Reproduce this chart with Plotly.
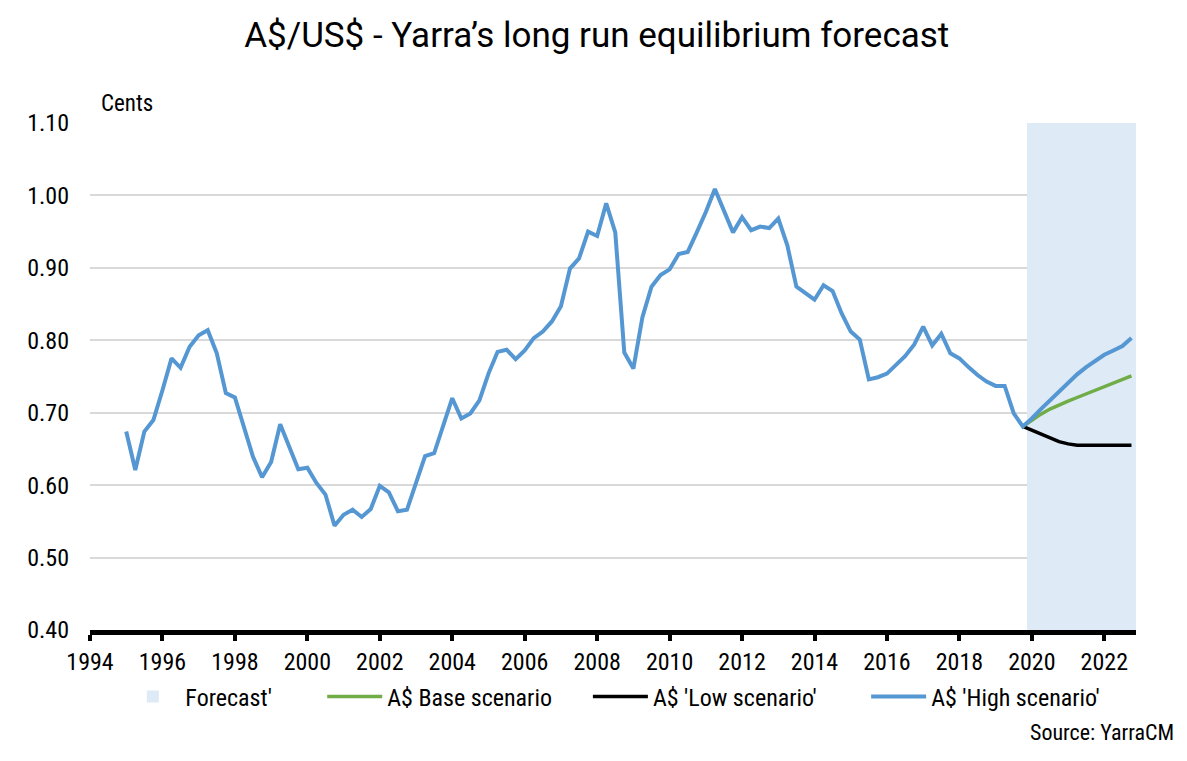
import plotly.graph_objects as go

# quarterly history, 1995 Q1 .. 2019 Q4 (cents)
hist_start = 1995.0
hist_values = [
	0.674, 0.621, 0.674, 0.690, 0.731, 0.775, 0.762, 0.791, 0.807, 0.814,
	0.782, 0.727, 0.721, 0.681, 0.639, 0.611, 0.632, 0.684, 0.653, 0.622,
	0.624, 0.603, 0.587, 0.544, 0.559, 0.566, 0.556, 0.567, 0.599, 0.590,
	0.564, 0.566, 0.603, 0.640, 0.644, 0.681, 0.720, 0.692, 0.699, 0.717,
	0.754, 0.784, 0.787, 0.774, 0.786, 0.803, 0.812, 0.826, 0.847, 0.899,
	0.913, 0.950, 0.944, 0.989, 0.949, 0.783, 0.761, 0.832, 0.874, 0.890,
	0.898, 0.919, 0.922, 0.949, 0.977, 1.009, 0.979, 0.949, 0.970, 0.952,
	0.957, 0.955, 0.968, 0.931, 0.874, 0.865, 0.856, 0.876, 0.868, 0.837,
	0.812, 0.801, 0.746, 0.749, 0.754, 0.766, 0.778, 0.794, 0.819, 0.793,
	0.809, 0.782, 0.775, 0.763, 0.752, 0.743, 0.737, 0.737, 0.699, 0.681,
]
hist_dates = [hist_start + 0.25 * i for i in range(len(hist_values))]

# forecast, 2019 Q4 .. 2022 Q4
fc_dates = [2019.75, 2020.0, 2020.25, 2020.5, 2020.75, 2021.0, 2021.25,
	2021.5, 2021.75, 2022.0, 2022.25, 2022.5, 2022.75]
base_values = [0.681, 0.690, 0.698, 0.705, 0.711, 0.716, 0.721,
	0.726, 0.731, 0.735, 0.740, 0.745, 0.751]
low_values = [0.681, 0.676, 0.671, 0.665, 0.660, 0.657, 0.655,
	0.655, 0.655, 0.655, 0.655, 0.655, 0.655]
high_values = [0.681, 0.692, 0.705, 0.717, 0.730, 0.742, 0.753,
	0.763, 0.772, 0.780, 0.786, 0.792, 0.803]

# shaded forecast columns
shade_dates = fc_dates[1:]
shade_values = [1.10] * len(shade_dates)

x_ticks = list(range(1994, 2023, 2))
y_ticks = [0.40, 0.50, 0.60, 0.70, 0.80, 0.90, 1.00, 1.10]

narrow = "Liberation Sans Narrow, Roboto Condensed, DejaVu Sans Condensed, Arial Narrow, sans-serif"

fig = go.Figure()
fig.add_trace(go.Bar(
	x=shade_dates, y=shade_values, width=0.25,
	marker=dict(color="#DEEAF6", line=dict(width=0)),
	name="Forecast'", hoverinfo="skip", legend="legend"))
fig.add_trace(go.Scatter(
	x=fc_dates, y=base_values, mode="lines",
	line=dict(color="#70AD47", width=3.5), name="A$ Base scenario", legend="legend2"))
fig.add_trace(go.Scatter(
	x=fc_dates, y=low_values, mode="lines",
	line=dict(color="#000000", width=3.5), name="A$ 'Low scenario'", legend="legend3"))
fig.add_trace(go.Scatter(
	x=hist_dates + fc_dates[1:], y=hist_values + high_values[1:], mode="lines",
	line=dict(color="#5597D2", width=4), name="A$ 'High scenario'", legend="legend4"))

def leg(x):
	return dict(orientation="h", x=x, xanchor="left", y=-0.132, yanchor="middle",
		itemwidth=55, font=dict(family=narrow, size=24, color="#000000"),
		bgcolor="rgba(0,0,0,0)")

# page body adds an 8px margin, so the figure margins are shifted by that
fig.update_layout(
	width=1187, height=761,
	paper_bgcolor="white", plot_bgcolor="white",
	margin=dict(l=82, r=59, t=115, b=139),
	bargap=0,
	title=dict(text="A$/US$ - Yarra\u2019s long run equilibrium forecast",
		x=0.496, xanchor="center", y=0.9645, yanchor="middle",
		font=dict(family="Roboto, Arial, sans-serif", size=35, color="#000000")),
	font=dict(family=narrow, size=24, color="#000000"),
	showlegend=True,
	legend=leg(0.029), legend2=leg(0.222), legend3=leg(0.476), legend4=leg(0.742),
	xaxis=dict(range=[1994, 2022.875], tickmode="array", tickvals=x_ticks,
		showgrid=False, zeroline=False,
		showline=True, linecolor="#000000", linewidth=5,
		ticks="outside", ticklen=6, tickwidth=4, tickcolor="#000000",
		tickfont=dict(family=narrow, size=24)),
	yaxis=dict(range=[0.40, 1.10], tickmode="array", tickvals=y_ticks,
		tickformat=".2f", showgrid=True, gridcolor="#D9D9D9", gridwidth=2,
		zeroline=False, showline=False, ticks="", ticklabelstandoff=20,
		tickfont=dict(family=narrow, size=24)),
	annotations=[
		dict(text="Cents", xref="paper", yref="paper", x=0.009, y=1.039,
			xanchor="left", yanchor="middle", showarrow=False,
			font=dict(family=narrow, size=23)),
		dict(text="Source: YarraCM", xref="paper", yref="paper", x=1.038, y=-0.203,
			xanchor="right", yanchor="middle", showarrow=False,
			font=dict(family=narrow, size=22)),
	],
)

fig.write_html("out.html")
